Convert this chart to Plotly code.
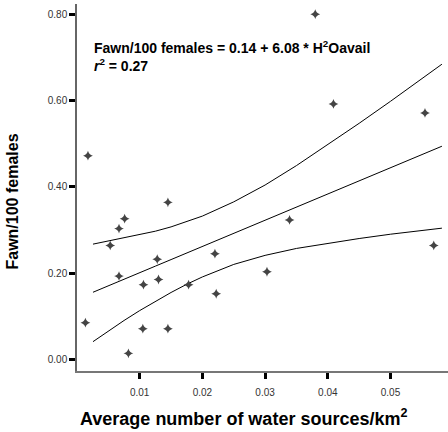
import plotly.graph_objects as go

# Observed points (water sources/km2, fawn/100 females)
water_sources = [0.00175, 0.0145, 0.0380, 0.0409, 0.0555, 0.0339, 0.0303, 0.0569,
                 0.0076, 0.0067, 0.0053, 0.0067, 0.0128, 0.0106, 0.0130, 0.0178,
                 0.0220, 0.0222, 0.00134, 0.0105, 0.0145, 0.0082]
fawn_ratio = [0.472, 0.364, 0.800, 0.592, 0.571, 0.323, 0.203, 0.264,
              0.326, 0.303, 0.264, 0.193, 0.232, 0.173, 0.185, 0.173,
              0.245, 0.152, 0.085, 0.071, 0.071, 0.014]

# Fitted line and confidence band
band_x = [0.00255, 0.005, 0.0075, 0.01, 0.0125, 0.015, 0.0175, 0.02,
          0.025, 0.03, 0.035, 0.04, 0.045, 0.05, 0.055, 0.0582]
fit_y = [0.1555, 0.170, 0.1856, 0.2008, 0.216, 0.2312, 0.2464, 0.2616,
         0.292, 0.3224, 0.3528, 0.3832, 0.4136, 0.444, 0.4744, 0.4939]
upper_y = [0.267, 0.274, 0.281, 0.289, 0.297, 0.307, 0.319, 0.332,
           0.365, 0.404, 0.449, 0.497, 0.547, 0.598, 0.650, 0.684]
lower_y = [0.041, 0.066, 0.090, 0.113, 0.135, 0.155, 0.174, 0.191,
           0.220, 0.241, 0.257, 0.269, 0.280, 0.290, 0.299, 0.304]

x_ticks = [0.01, 0.02, 0.03, 0.04, 0.05]
x_tick_labels = ["0.01", "0.02", "0.03", "0.04", "0.05"]
y_ticks = [0.0, 0.2, 0.4, 0.6, 0.8]
y_tick_labels = ["0.00", "0.20", "0.40", "0.60", "0.80"]

FONT = "Liberation Sans, Arial, sans-serif"

fig = go.Figure()
for ys in (upper_y, fit_y, lower_y):
    fig.add_trace(go.Scatter(x=band_x, y=ys, mode="lines",
                             line=dict(color="black", width=1),
                             hoverinfo="skip", showlegend=False))
fig.add_trace(go.Scatter(x=water_sources, y=fawn_ratio, mode="markers",
                         marker=dict(symbol="star-diamond", size=7, color="#444444",
                                     line=dict(width=0)),
                         showlegend=False))

fig.update_layout(
    width=448, height=432,
    margin=dict(l=77, r=0, t=4, b=61),
    plot_bgcolor="white", paper_bgcolor="white",
    font=dict(family=FONT, size=10, color="#333333"),
    showlegend=False,
)
fig.update_xaxes(range=[0, 0.05917], tickvals=x_ticks, ticktext=x_tick_labels,
                 ticks="outside", ticklen=6, tickwidth=3, tickcolor="black",
                 ticklabelstandoff=5,
                 showline=True, linecolor="#777777", linewidth=1.5,
                 showgrid=False, zeroline=False, tickfont=dict(size=10))
fig.update_yaxes(range=[-0.027, 0.8235], tickvals=y_ticks, ticktext=y_tick_labels,
                 ticks="outside", ticklen=6, tickwidth=3, tickcolor="black",
                 showline=True, linecolor="#666666", linewidth=1.5,
                 showgrid=False, zeroline=False, tickfont=dict(size=10))

fig.add_annotation(xref="paper", yref="paper", x=0.04, y=0.912,
                   xanchor="left", yanchor="top", align="left", showarrow=False,
                   text="<b>Fawn/100 females = 0.14 + 6.08 * H<sup>2</sup>Oavail<br>"
                        "<i>r</i><sup>2</sup> = 0.27</b>",
                   font=dict(family=FONT, size=14, color="black"))
fig.add_annotation(xref="paper", yref="paper", x=-0.175, y=0.462,
                   xanchor="center", yanchor="middle", textangle=-90, showarrow=False,
                   text="<b>Fawn/100 females</b>",
                   font=dict(family=FONT, size=16, color="black"))
fig.add_annotation(xref="paper", yref="paper", x=0.45, y=-0.128,
                   xanchor="center", yanchor="middle", showarrow=False,
                   text="<b>Average number of water sources/km<sup>2</sup></b>",
                   font=dict(family=FONT, size=18, color="black"))

fig.write_html("out.html")
